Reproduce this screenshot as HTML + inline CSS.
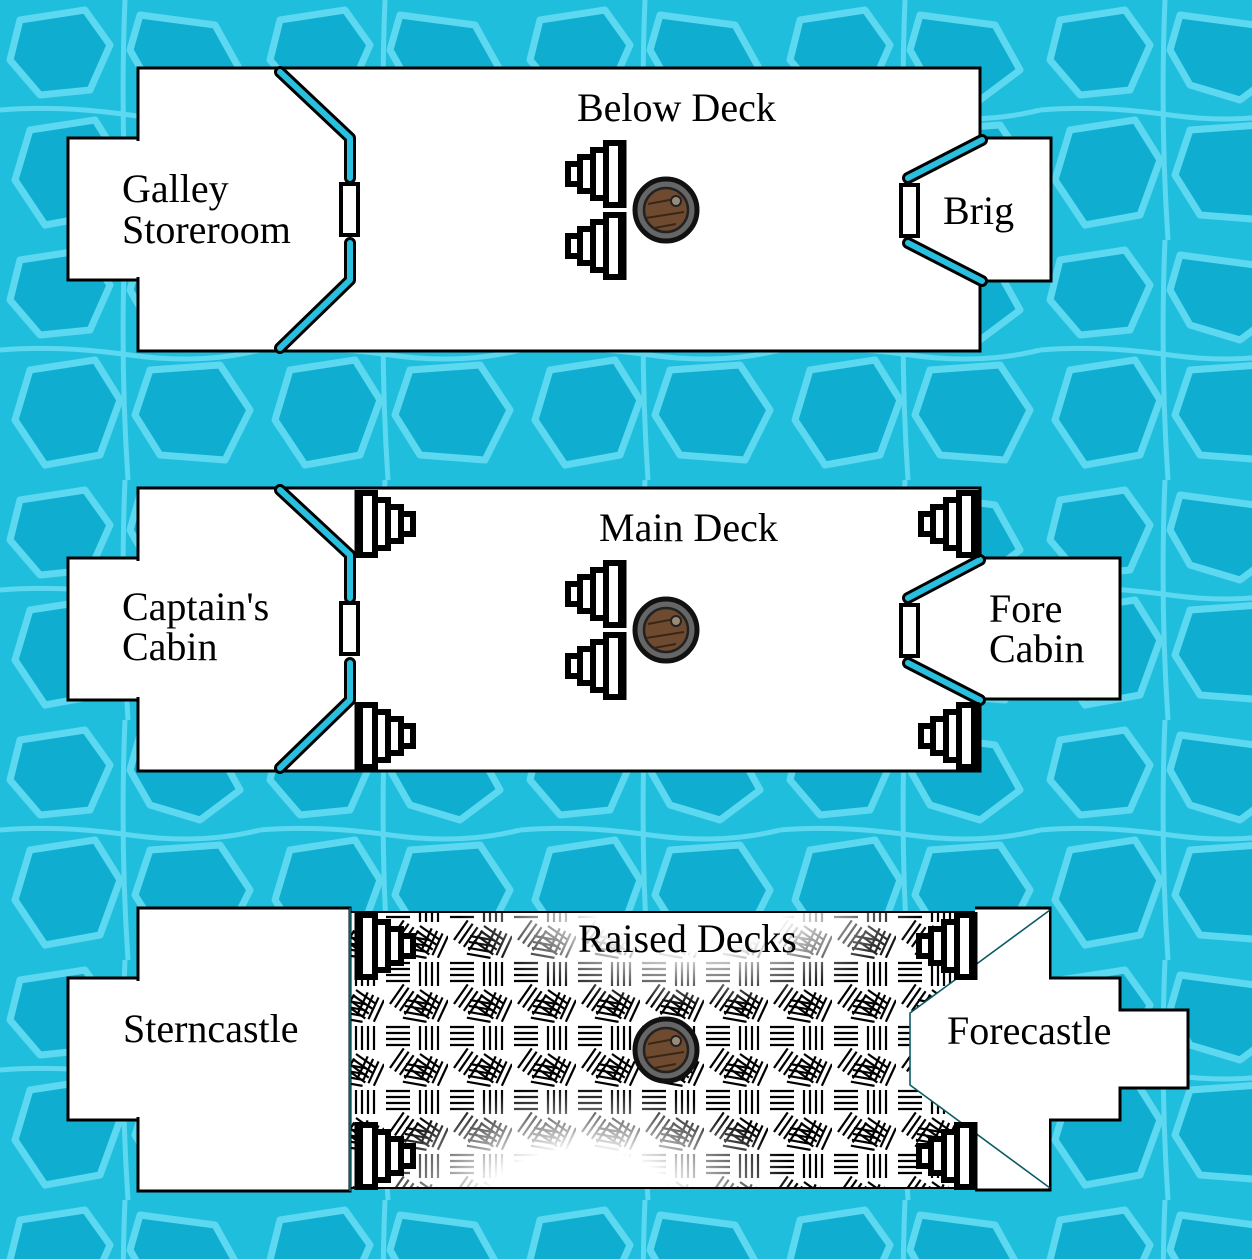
<!DOCTYPE html>
<html><head><meta charset="utf-8"><style>
html,body{margin:0;padding:0;width:1252px;height:1259px;overflow:hidden;background:#20bedd}
svg{display:block}
text{font-family:"Liberation Serif",serif;font-size:40px;fill:#000}
</style></head><body>
<svg width="1252" height="1259" viewBox="0 0 1252 1259" xmlns="http://www.w3.org/2000/svg">
<defs>
<pattern id="water" width="260" height="240" patternUnits="userSpaceOnUse">
<rect width="260" height="240" fill="#20bedd"/>
<g fill="#0fadcf" stroke="#5cd8f1" stroke-width="7" stroke-linejoin="round">
<path d="M20 20 L85 10 L110 45 L90 90 L40 95 L10 60Z"/>
<path d="M140 15 L215 25 L240 70 L200 100 L150 85 L130 50Z"/>
<path d="M30 130 L95 120 L120 160 L100 215 L45 225 L15 180Z"/>
<path d="M150 130 L220 125 L250 170 L225 220 L160 215 L135 175Z"/>
</g>
<g fill="none" stroke="#5cd8f1" stroke-width="5">
<path d="M0 110 Q60 105 130 115 T260 110"/>
<path d="M125 0 Q120 120 128 240"/>
</g>
</pattern>
<pattern id="weave" width="64" height="64" patternUnits="userSpaceOnUse">
<rect width="64" height="64" fill="#fff"/>
<g stroke="#000" stroke-width="2.2" fill="none">
<path d="M0 0h24M0 6h24M0 12h24M0 18h24" transform="translate(2,3)"/>
<path d="M0 0h24M0 6h24M0 12h24M0 18h24" transform="translate(54,2) rotate(90)"/>
<path d="M0 0h24M0 6h24M0 12h24M0 18h24" transform="translate(36,30) rotate(35)"/>
<path d="M0 0h24M0 6h24M0 12h24M0 18h24" transform="translate(6,44) rotate(-55)"/>
<path d="M0 0h24M0 6h24M0 12h24M0 18h24" transform="translate(22,40) rotate(10)"/>
<path d="M0 0h24M0 6h24M0 12h24M0 18h24" transform="translate(64,40) rotate(115)"/>
</g>
</pattern>
<radialGradient id="fade" cx="0.5" cy="0.5" r="0.5">
<stop offset="0.4" stop-color="#fff" stop-opacity="1"/><stop offset="1" stop-color="#fff" stop-opacity="0"/>
</radialGradient>
<clipPath id="midclip"><rect x="350" y="912" width="625" height="276"/></clipPath>
<g id="stair" fill="#fff" stroke="#000" stroke-width="6">
<rect x="3" y="24" width="12" height="20"/>
<rect x="15" y="17" width="13" height="34"/>
<rect x="28" y="10" width="13" height="48"/>
<rect x="41" y="3" width="15" height="62"/>
<line x1="59" y1="0" x2="59" y2="68" stroke-width="5"/>
</g>
<g id="hatch">
<circle r="31" fill="#666" stroke="#111" stroke-width="5"/>
<circle r="22" fill="#6e4b30" stroke="#222" stroke-width="2.5"/>
<path d="M-18 -6 L14 -12 M-20 8 L18 2 M-12 18 L10 14" stroke="#3a2614" stroke-width="2"/>
<circle cx="10" cy="-9" r="5" fill="#9a8a78" stroke="#222" stroke-width="2"/>
</g>
</defs>
<rect width="1252" height="1259" fill="url(#water)"/>

<!-- BELOW DECK -->
<g stroke="#000" stroke-width="3" fill="#fff">
<rect x="138" y="68" width="842" height="283"/>
<rect x="68" y="138" width="70" height="142"/>
<rect x="980" y="138" width="71" height="143"/>
</g>
<rect x="133" y="141" width="10" height="136" fill="#fff"/>
<rect x="975" y="141" width="10" height="137" fill="#fff"/>
<g fill="none" stroke-linecap="round" stroke-linejoin="round">
<path d="M280 72 L350 138 L350 178 M350 243 L350 280 L280 348 M982 140 L908 178 M908 243 L982 281" stroke="#000" stroke-width="12"/>
<path d="M280 72 L350 138 L350 178 M350 243 L350 280 L280 348 M982 140 L908 178 M908 243 L982 281" stroke="#29c0e0" stroke-width="6"/>
</g>
<g fill="#fff" stroke="#000" stroke-width="4">
<rect x="341" y="184" width="17" height="51"/>
<rect x="901" y="185" width="17" height="51"/>
</g>
<use href="#stair" x="565" y="140"/>
<use href="#stair" x="565" y="212"/>
<use href="#hatch" x="666" y="210"/>
<text x="577" y="121">Below Deck</text>
<text x="122" y="202">Galley</text>
<text x="122" y="243">Storeroom</text>
<text x="943" y="224">Brig</text>

<!-- MAIN DECK -->
<g stroke="#000" stroke-width="3" fill="#fff">
<rect x="138" y="488" width="842" height="283"/>
<rect x="68" y="558" width="70" height="142"/>
<rect x="980" y="558" width="140" height="141"/>
</g>
<rect x="133" y="561" width="10" height="136" fill="#fff"/>
<rect x="975" y="561" width="10" height="135" fill="#fff"/>
<g fill="none" stroke-linecap="round" stroke-linejoin="round">
<path d="M280 490 L350 555 L350 598 M350 663 L350 700 L280 768 M980 560 L908 598 M908 663 L980 700" stroke="#000" stroke-width="12"/>
<path d="M280 490 L350 555 L350 598 M350 663 L350 700 L280 768 M980 560 L908 598 M908 663 L980 700" stroke="#29c0e0" stroke-width="6"/>
</g>
<g fill="#fff" stroke="#000" stroke-width="4">
<rect x="341" y="603" width="17" height="51"/>
<rect x="901" y="605" width="17" height="51"/>
</g>
<use href="#stair" transform="translate(416,490) scale(-1,1)"/>
<use href="#stair" transform="translate(416,702) scale(-1,1)"/>
<use href="#stair" x="918" y="490"/>
<use href="#stair" x="918" y="702"/>
<use href="#stair" x="565" y="560"/>
<use href="#stair" x="565" y="632"/>
<use href="#hatch" x="666" y="630"/>
<text x="599" y="541">Main Deck</text>
<text x="122" y="620">Captain's</text>
<text x="122" y="660">Cabin</text>
<text x="989" y="622">Fore</text>
<text x="989" y="662">Cabin</text>

<!-- RAISED DECKS -->
<rect x="350" y="912" width="625" height="276" fill="url(#weave)"/>
<g clip-path="url(#midclip)">
<ellipse cx="690" cy="912" rx="230" ry="95" fill="url(#fade)"/>
<ellipse cx="580" cy="1195" rx="220" ry="110" fill="url(#fade)"/>
</g>
<rect x="350" y="912" width="625" height="276" fill="none" stroke="#000" stroke-width="2"/>
<g stroke="#000" stroke-width="3" fill="#fff">
<rect x="138" y="908" width="212" height="283"/>
<rect x="68" y="978" width="70" height="142"/>
<path d="M975 908 L1050 908 L1050 978 L1120 978 L1120 1010 L1188 1010 L1188 1088 L1120 1088 L1120 1120 L1050 1120 L1050 1190 L975 1190"/>
</g>
<rect x="133" y="981" width="10" height="136" fill="#fff"/>
<path d="M975 911 L1049 911 L1049 1188 L975 1188 Z" fill="#fff"/>
<path d="M1050 910 L910 1013 L910 1085 L1050 1188 L975 1188 L975 911 Z" fill="#fff"/>
<path d="M1050 910 L910 1013 L910 1085 L1050 1188" fill="none" stroke="#0d5a66" stroke-width="1.6"/>
<line x1="350" y1="908" x2="350" y2="1191" stroke="#0d5a66" stroke-width="2"/>
<use href="#stair" transform="translate(416,912) scale(-1,1)"/>
<use href="#stair" transform="translate(416,1122) scale(-1,1)"/>
<use href="#stair" x="916" y="912"/>
<use href="#stair" x="916" y="1122"/>
<use href="#hatch" x="666" y="1050"/>
<text x="578" y="952">Raised Decks</text>
<text x="123" y="1042">Sterncastle</text>
<text x="947" y="1044">Forecastle</text>
</svg>
</body></html>
